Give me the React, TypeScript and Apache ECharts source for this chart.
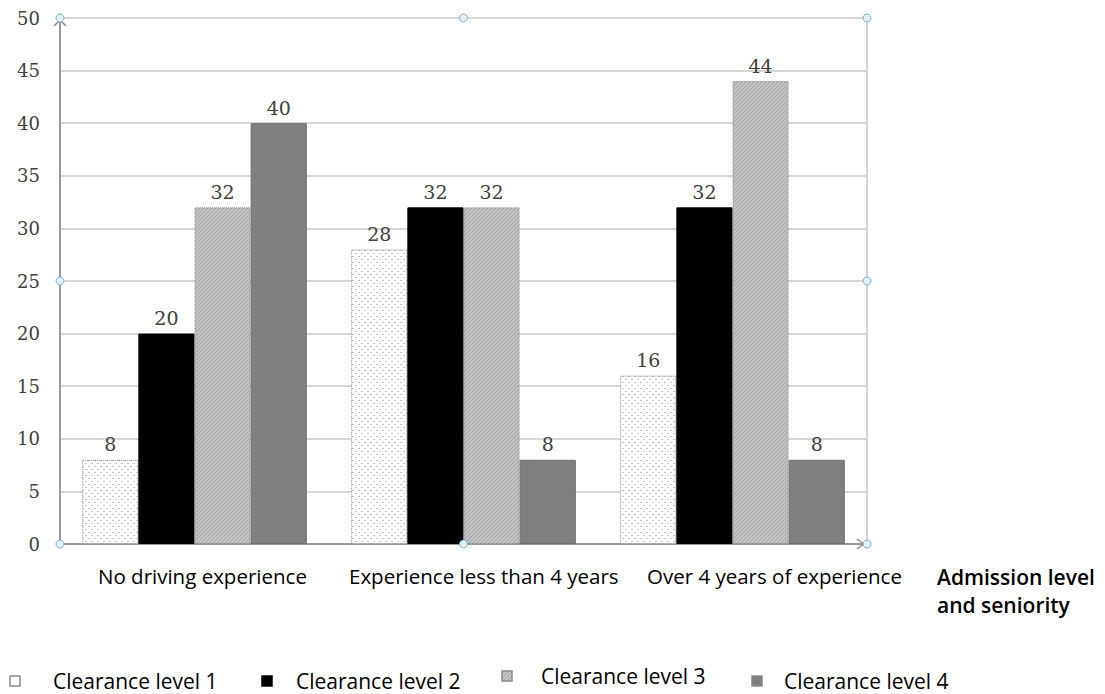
import React, { useEffect, useRef } from "react";
import * as echarts from "echarts";

// Chart data
const categories = [
  "No driving experience",
  "Experience less than 4 years",
  "Over 4 years of experience",
];
const seriesNames = [
  "Clearance level 1",
  "Clearance level 2",
  "Clearance level 3",
  "Clearance level 4",
];
const level1 = [8, 28, 16];
const level2 = [20, 32, 32];
const level3 = [32, 32, 44];
const level4 = [40, 8, 8];
const yTicks = [0, 5, 10, 15, 20, 25, 30, 35, 40, 45, 50];
const axisTitle = ["Admission level", "and seniority"];

// Layout of the plot
const GRID = { left: 60, right: 238, top: 18, bottom: 150 };
const X_LABEL_LEFT = [98, 349, 647];
const LEGEND_ICON_X = [10, 262, 502, 752];
const LEGEND_TEXT_X = [53, 296, 541, 784];
const LEGEND_Y = [681, 681, 676, 681];

function makeDotTile(): HTMLCanvasElement {
  const c = document.createElement("canvas");
  c.width = 6;
  c.height = 6;
  const g = c.getContext("2d")!;
  g.fillStyle = "#ffffff";
  g.fillRect(0, 0, 6, 6);
  g.fillStyle = "#c4c4c4";
  g.fillRect(1, 1, 2, 1);
  g.fillRect(4, 4, 2, 1);
  return c;
}

function makeHatchTile(): HTMLCanvasElement {
  const c = document.createElement("canvas");
  c.width = 4;
  c.height = 4;
  const g = c.getContext("2d")!;
  g.fillStyle = "#c2c2c2";
  g.fillRect(0, 0, 4, 4);
  g.fillStyle = "#a4a4a4";
  for (let i = 0; i < 4; i++) g.fillRect(i, 3 - i, 1, 1);
  return c;
}

export default function App() {
  const ref = useRef<HTMLDivElement>(null);

  useEffect(() => {
    document.body.style.margin = "0";
    if (!ref.current) return;
    const chart = echarts.init(ref.current, undefined, { renderer: "svg" });

    const dotTile = makeDotTile();
    const hatchTile = makeHatchTile();
    const dotFill: any = { image: dotTile, repeat: "repeat", imageWidth: 6, imageHeight: 6 };
    const hatchFill: any = { image: hatchTile, repeat: "repeat", imageWidth: 4, imageHeight: 4 };

    const fills: any[] = [dotFill, "#000000", hatchFill, "#7f7f7f"];
    const borders = ["#8c8c8c", "#000000", "#8a8a8a", "#6e6e6e"];
    const borderTypes: any[] = ["dotted", "solid", "dotted", "solid"];
    const values = [level1, level2, level3, level4];

    const serif = "'DejaVu Serif', 'Liberation Serif', serif";
    const sans = "'Open Sans', 'Liberation Sans', sans-serif";

    const series = values.map((data, i) => ({
      name: seriesNames[i],
      type: "bar",
      data,
      barGap: "0%",
      barCategoryGap: "16.5%",
      itemStyle: {
        color: fills[i],
        borderColor: borders[i],
        borderWidth: 1,
        borderType: borderTypes[i],
      },
      label: {
        show: true,
        position: "top",
        distance: 6,
        fontFamily: serif,
        fontSize: 19,
        color: "#404040",
      },
    }));

    const gx = GRID.left;
    const gy = GRID.top;
    const gr = 1105 - GRID.right;
    const gb = 694 - GRID.bottom;
    const gm = (gx + gr) / 2;
    const ym = (gy + gb) / 2;

    const handle = (x: number, y: number) => ({
      type: "circle",
      shape: { cx: x, cy: y, r: 4 },
      style: { fill: "#e3f1f7", stroke: "#7fb3c8", lineWidth: 1 },
      z: 20,
    });

    const graphics: any[] = [];

    // axis arrow heads
    graphics.push({
      type: "polyline",
      shape: { points: [[gx - 6, gy + 8], [gx, gy + 2], [gx + 6, gy + 8]] },
      style: { stroke: "#8c8c8c", lineWidth: 1.5, fill: null },
      z: 10,
    });
    graphics.push({
      type: "polyline",
      shape: { points: [[gr - 10, gb - 5], [gr - 3, gb], [gr - 10, gb + 5]] },
      style: { stroke: "#8c8c8c", lineWidth: 1.5, fill: null },
      z: 10,
    });

    // selection handles around the plot
    [
      [gx, gy], [gm, gy], [gr, gy],
      [gx, ym], [gr, ym],
      [gx, gb], [gm, gb], [gr, gb],
    ].forEach(([x, y]) => graphics.push(handle(x, y)));

    // category labels
    categories.forEach((c, i) => {
      graphics.push({
        type: "text",
        x: X_LABEL_LEFT[i],
        y: 576,
        style: {
          text: c,
          fontFamily: sans,
          fontSize: 20.5,
          fill: "#000",
          verticalAlign: "middle",
          align: "left",
        },
      });
    });

    // x axis title
    axisTitle.forEach((t, i) => {
      graphics.push({
        type: "text",
        x: 937,
        y: 577 + i * 28,
        style: {
          text: t,
          fontFamily: sans,
          fontWeight: 600,
          fontSize: 21,
          fill: "#000",
          verticalAlign: "middle",
          align: "left",
        },
      });
    });

    // legend
    seriesNames.forEach((n, i) => {
      graphics.push({
        type: "rect",
        shape: { x: LEGEND_ICON_X[i], y: LEGEND_Y[i] - 5, width: 10, height: 10 },
        style: {
          fill: i === 0 ? "#ffffff" : fills[i],
          stroke: i === 1 ? "#000" : "#8c8c8c",
          lineWidth: 1.5,
        },
      });
      graphics.push({
        type: "text",
        x: LEGEND_TEXT_X[i],
        y: LEGEND_Y[i],
        style: {
          text: n,
          fontFamily: sans,
          fontSize: 21,
          fill: "#000",
          verticalAlign: "middle",
          align: "left",
        },
      });
    });

    chart.setOption({
      animation: false,
      backgroundColor: "#ffffff",
      grid: {
        left: GRID.left,
        right: GRID.right,
        top: GRID.top,
        bottom: GRID.bottom,
        show: true,
        borderColor: "#c8c8c8",
        borderWidth: 1.5,
        backgroundColor: "transparent",
      },
      xAxis: {
        type: "category",
        data: categories,
        axisLine: { lineStyle: { color: "#9a9a9a", width: 2 } },
        axisTick: { show: false },
        axisLabel: { show: false },
      },
      yAxis: {
        type: "value",
        min: yTicks[0],
        max: yTicks[yTicks.length - 1],
        interval: yTicks[1] - yTicks[0],
        axisLine: { show: true, lineStyle: { color: "#9a9a9a", width: 2 } },
        axisTick: { show: false },
        splitLine: { lineStyle: { color: "#d6d6d6", width: 2 } },
        axisLabel: {
          fontFamily: serif,
          fontSize: 18,
          color: "#404040",
          margin: 20,
        },
      },
      series,
      graphic: graphics,
    });

    return () => chart.dispose();
  }, []);

  return <div ref={ref} style={{ width: 1105, height: 694 }} />;
}
